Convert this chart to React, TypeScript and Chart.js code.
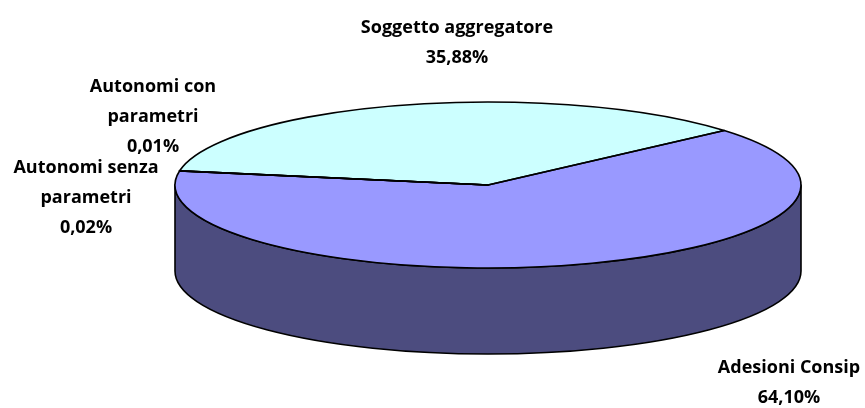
import React, { useEffect, useRef } from "react";
import { Chart, registerables } from "chart.js";

Chart.register(...registerables);

// ---- data ----
const categories = [
  "Adesioni Consip",
  "Autonomi senza parametri",
  "Autonomi con parametri",
  "Soggetto aggregatore",
];
const shares = [64.1, 0.02, 0.01, 35.88];
const labelLines = [
  ["Adesioni Consip"],
  ["Autonomi senza", "parametri"],
  ["Autonomi con", "parametri"],
  ["Soggetto aggregatore"],
];

// ---- style ----
const topColors = ["#9999FF", "#993366", "#FFFFCC", "#CCFFFF"];
const sideColors = ["#4C4C7F", "#4C1933", "#7F7F66", "#667F7F"];
const labelAnchors = [
  [789, 368],
  [86, 168],
  [153, 87],
  [457, 28],
];
const LINE_GAP = 30;
const RX = 313;
const RY = 83;
const DEPTH = 86;
const FONT = "bold 18px 'Open Sans', 'Liberation Sans', sans-serif";

function frontRanges(s: number, e: number): [number, number][] {
  const out: [number, number][] = [];
  for (const k of [-2, 0, 2]) {
    const lo = Math.max(s, k * Math.PI);
    const hi = Math.min(e, (k + 1) * Math.PI);
    if (hi > lo) out.push([lo, hi]);
  }
  return out;
}

const pie3d = {
  id: "pie3d",
  beforeDatasetsDraw(chart: any) {
    const ctx = chart.ctx as CanvasRenderingContext2D;
    const arcs = chart.getDatasetMeta(0).data as any[];
    if (!arcs.length) return;
    const cx = arcs[0].x;
    const cy = arcs[0].y;
    const R = arcs[0].outerRadius;
    // side walls
    ctx.save();
    ctx.lineWidth = 1.6;
    ctx.strokeStyle = "#000";
    ctx.lineJoin = "round";
    arcs.forEach((arc, i) => {
      for (const [a, b] of frontRanges(arc.startAngle, arc.endAngle)) {
        ctx.beginPath();
        ctx.ellipse(cx, cy, RX, RY, 0, a, b, false);
        ctx.ellipse(cx, cy + DEPTH, RX, RY, 0, b, a, true);
        ctx.closePath();
        ctx.fillStyle = sideColors[i];
        ctx.fill();
        ctx.stroke();
      }
    });
    ctx.restore();
    // squash the library's circle into the top ellipse
    ctx.save();
    ctx.translate(cx, cy);
    ctx.scale(RX / R, RY / R);
    ctx.translate(-cx, -cy);
  },
  afterDatasetsDraw(chart: any) {
    const ctx = chart.ctx as CanvasRenderingContext2D;
    ctx.restore();
    const arcs = chart.getDatasetMeta(0).data as any[];
    if (!arcs.length) return;
    const cx = arcs[0].x;
    const cy = arcs[0].y;
    ctx.save();
    ctx.lineWidth = 1.6;
    ctx.strokeStyle = "#000";
    ctx.lineJoin = "round";
    arcs.forEach((arc) => {
      ctx.beginPath();
      ctx.moveTo(cx, cy);
      ctx.ellipse(cx, cy, RX, RY, 0, arc.startAngle, arc.endAngle, false);
      ctx.closePath();
      ctx.stroke();
    });
    ctx.restore();
  },
  afterDraw(chart: any) {
    const ctx = chart.ctx as CanvasRenderingContext2D;
    ctx.save();
    ctx.font = FONT;
    ctx.fillStyle = "#000";
    ctx.textAlign = "center";
    ctx.textBaseline = "middle";
    shares.forEach((v, i) => {
      const [x, y] = labelAnchors[i];
      const lines = [...labelLines[i], v.toFixed(2).replace(".", ",") + "%"];
      lines.forEach((t, j) => ctx.fillText(t, x, y + j * LINE_GAP));
    });
    ctx.restore();
  },
};

export default function App() {
  const ref = useRef<HTMLCanvasElement>(null);
  useEffect(() => {
    document.body.style.margin = "0";
    const chart = new Chart(ref.current!, {
      type: "pie",
      data: {
        labels: categories,
        datasets: [
          {
            data: shares,
            backgroundColor: topColors,
            borderWidth: 0,
            hoverOffset: 0,
            clip: false as any,
          },
        ],
      },
      options: {
        animation: false,
        responsive: true,
        maintainAspectRatio: false,
        events: [],
        rotation: 49,
        layout: { padding: { left: 111, right: 0, top: 0, bottom: 38 } },
        plugins: { legend: { display: false }, tooltip: { enabled: false } },
      },
      plugins: [pie3d],
    });
    return () => chart.destroy();
  }, []);
  return (
    <div style={{ position: "fixed", left: 0, top: 0, width: 865, height: 408, background: "#fff" }}>
      <canvas ref={ref} />
    </div>
  );
}
